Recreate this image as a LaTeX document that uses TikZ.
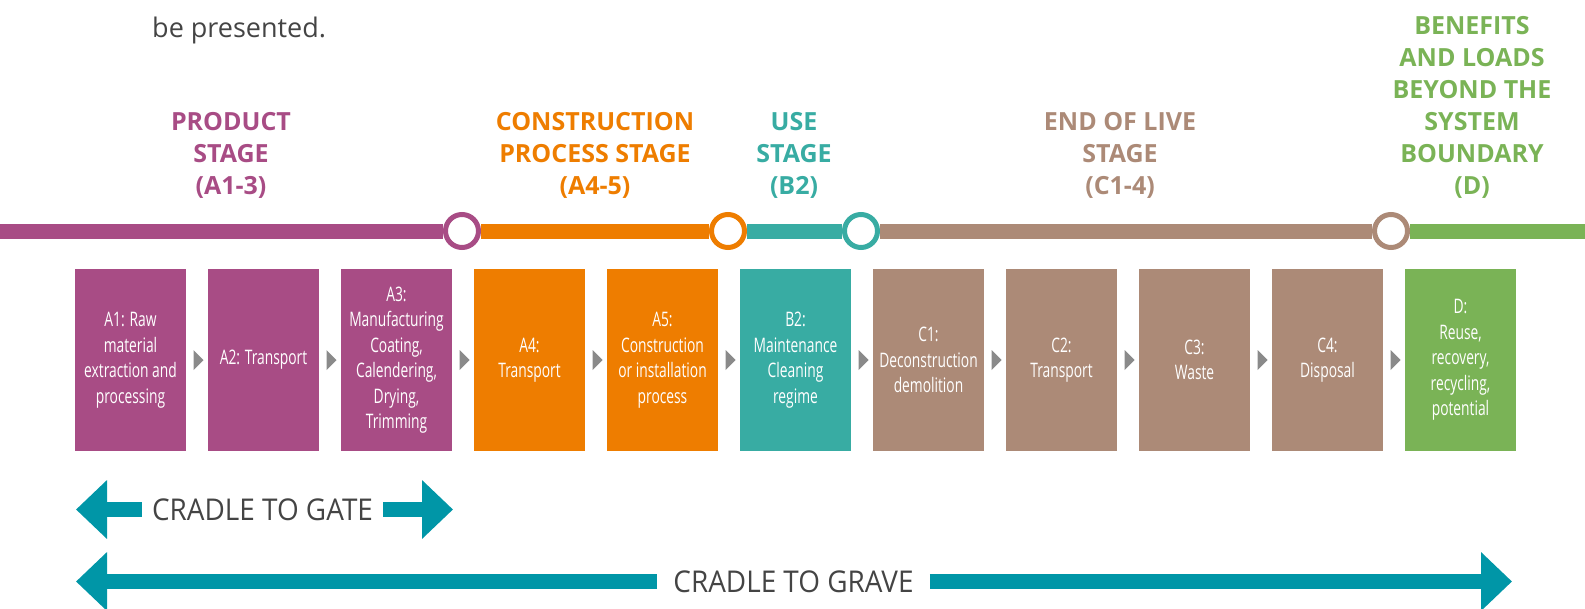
\documentclass[tikz,border=0pt]{standalone}
\usepackage{fontspec}
\setmainfont{Open Sans}
\newfontfamily\boxfont[FakeStretch=0.69]{Open Sans}
\newfontfamily\cradlefont[FakeStretch=0.93]{Open Sans}
\usetikzlibrary{positioning,calc,arrows.meta}

\definecolor{cpurple}{HTML}{A84C85}
\definecolor{corange}{HTML}{EE7D00}
\definecolor{cteal}{HTML}{38ACA3}
\definecolor{cbrown}{HTML}{AC8A77}
\definecolor{cgreen}{HTML}{7AB356}
\definecolor{carrow}{HTML}{0096A7}
\definecolor{cchev}{HTML}{8A8A8A}
\definecolor{ctext}{HTML}{444444}

\tikzset{
  stagebox/.style={fill=#1, minimum width=111pt, minimum height=182pt, inner sep=0pt,
    align=center, text=white, font=\boxfont\fontsize{20}{25.5}\selectfont},
  ring/.style={circle, draw=#1, fill=white, line width=5pt, minimum size=33pt, inner sep=0pt},
  seg/.style={draw=#1, line width=15pt},
  stagehead/.style={text=#1, align=center, anchor=base, inner sep=0pt,
    font=\bfseries\fontsize{25}{32}\selectfont},
  bigarrow/.style={draw=carrow, line width=15pt, -{Triangle[length=31pt,width=57pt]}},
  cradle/.style={text=ctext, inner sep=0pt, font=\cradlefont\fontsize{30}{36}\selectfont},
}

\begin{document}
\begin{tikzpicture}[x=1pt, y=-1pt]
  \useasboundingbox (0,0) rectangle (1585,608);
  %
  \node[anchor=base west, inner sep=0pt, text=ctext, font=\fontsize{27}{32}\selectfont]
    (intro) at (152,37) {be presented.};
  %
  % timeline
  \coordinate (lineL) at (0,231);
  \coordinate (lineR) at (1585,231);
  \node[ring=cpurple] (r1) at (462,231) {};
  \node[ring=corange] (r2) at (728,231) {};
  \node[ring=cteal]   (r3) at (861,231) {};
  \node[ring=cbrown]  (r4) at (1391,231) {};
  \draw[seg=cpurple] (lineL) -- (r1);
  \draw[seg=corange] (r1) -- (r2);
  \draw[seg=cteal]   (r2) -- (r3);
  \draw[seg=cbrown]  (r3) -- (r4);
  \draw[seg=cgreen]  (r4) -- (lineR);
  %
  % stage headings (base = last line)
  \node[stagehead=cpurple] (hprod) at (231,194) {PRODUCT\\STAGE\\(A1-3)};
  \node[stagehead=corange] (hcons) at (595,194) {CONSTRUCTION\\PROCESS STAGE\\(A4-5)};
  \node[stagehead=cteal]   (huse)  at (794,194) {USE\\STAGE\\(B2)};
  \node[stagehead=cbrown]  (hend)  at (1120,194) {END OF LIVE\\STAGE\\(C1-4)};
  \node[stagehead=cgreen]  (hben)  at (1472,194)
    {BENEFITS\\AND LOADS\\BEYOND THE\\SYSTEM\\BOUNDARY\\(D)};
  %
  % modules
  \node[stagebox=cpurple] (a1) at (130.5,360) {A1: Raw\\material\\extraction and\\processing};
  \node[stagebox=cpurple, right=21.6pt of a1] (a2) {A2: Transport};
  \node[stagebox=cpurple, right=21.6pt of a2] (a3)
    {A3:\\Manufacturing\\Coating,\\Calendering,\\Drying,\\Trimming};
  \node[stagebox=corange, right=21.6pt of a3] (a4) {A4:\\Transport};
  \node[stagebox=corange, right=21.6pt of a4] (a5) {A5:\\Construction\\or installation\\process};
  \node[stagebox=cteal,   right=21.6pt of a5] (b2) {B2:\\Maintenance\\Cleaning\\regime};
  \node[stagebox=cbrown,  right=21.6pt of b2] (c1) {C1:\\Deconstruction\\demolition};
  \node[stagebox=cbrown,  right=21.6pt of c1] (c2) {C2:\\Transport};
  \node[stagebox=cbrown,  right=21.6pt of c2] (c3) {C3:\\Waste};
  \node[stagebox=cbrown,  right=21.6pt of c3] (c4) {C4:\\Disposal};
  \node[stagebox=cgreen,  right=21.6pt of c4] (d)  {D:\\Reuse,\\recovery,\\recycling,\\potential};
  %
  % small chevrons between modules
  \foreach \p/\q in {a1/a2, a2/a3, a3/a4, a4/a5, a5/b2, b2/c1, c1/c2, c2/c3, c3/c4, c4/d}
    \fill[cchev] ($(\p.east)!0.5!(\q.west)$) ++(-3.5,-10) -- ++(10,10) -- ++(-10,10) -- cycle;
  %
  % cradle arrows
  \coordinate (gateL) at (76,509.5);
  \coordinate (gateR) at (453,509.5);
  \node[cradle, inner xsep=10pt] (gate) at (262.5,509.5) {CRADLE TO GATE};
  \draw[bigarrow] (gate.west) -- (gateL);
  \draw[bigarrow] (gate.east) -- (gateR);
  %
  \coordinate (graveL) at (76,581.5);
  \coordinate (graveR) at (1512,581.5);
  \node[cradle, inner xsep=16pt] (grave) at (793.5,581.5) {CRADLE TO GRAVE};
  \draw[bigarrow] (grave.west) -- (graveL);
  \draw[bigarrow] (grave.east) -- (graveR);
\end{tikzpicture}
\end{document}
